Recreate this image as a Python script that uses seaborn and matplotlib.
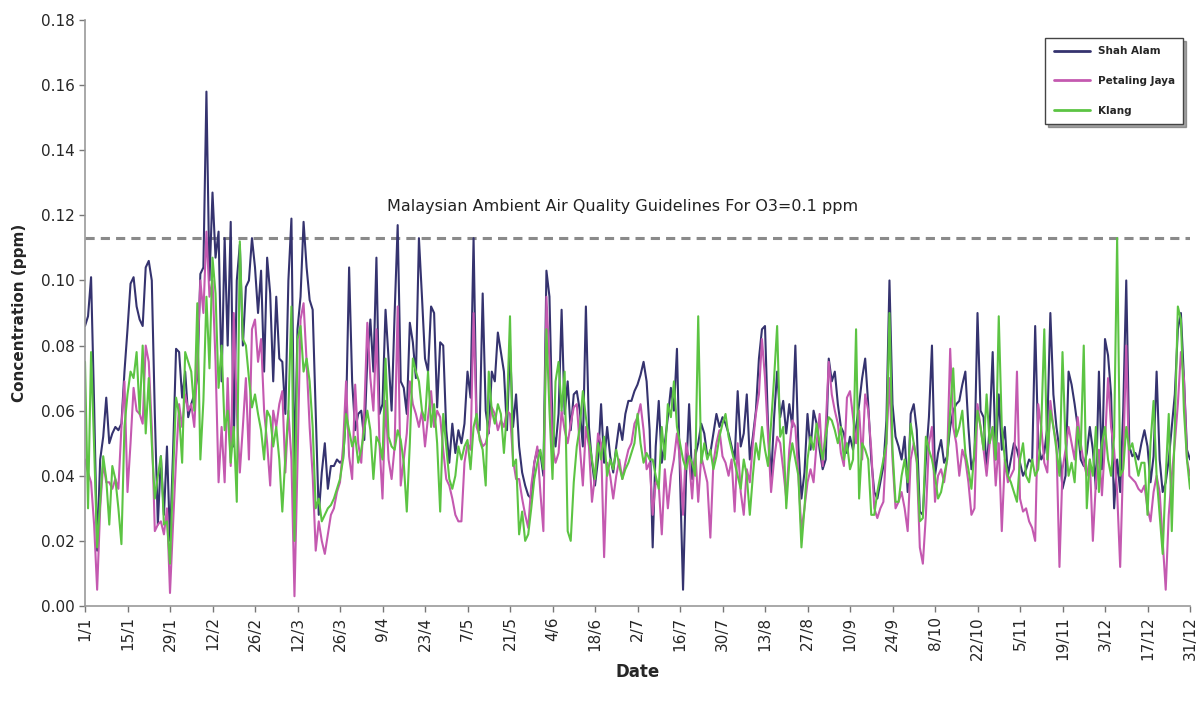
import numpy as np
import pandas as pd
import matplotlib
matplotlib.use("Agg")
import matplotlib.pyplot as plt
import seaborn as sns
from matplotlib.lines import Line2D

# Daily O3 concentrations, in 1/1000 ppm, day 1 = 1 Jan
shah_alam = [
    86, 89, 101, 62, 17, 45, 52, 64, 50, 53, 55, 54, 56, 72,
    85, 99, 101, 92, 88, 86, 104, 106, 100, 59, 25, 46, 28, 49, 20, 47, 79,
    78, 64, 72, 58, 62, 65, 70, 102, 104, 158, 100, 127, 107, 115, 69, 113, 80, 118, 49, 100, 111, 80, 98, 100, 113, 104, 90, 103, 72, 107, 96,
    69, 95, 76, 75, 59, 100, 119, 40, 85, 95, 118, 104, 94, 91, 60, 28, 41, 50, 36, 43, 43, 45, 44, 45, 59, 104, 69, 54, 59, 60, 51, 76,
    88, 72, 107, 59, 62, 91, 76, 60, 90, 117, 69, 67, 59, 87, 81, 70, 113, 95, 76, 72, 92, 90, 61, 81, 80, 54, 44, 56, 47, 54, 50,
    56, 72, 64, 113, 56, 54, 96, 60, 53, 72, 69, 84, 78, 72, 54, 80, 55, 65, 49, 41, 37, 34, 33, 44, 48, 47, 40, 103, 95, 55, 49,
    59, 91, 59, 69, 54, 65, 66, 60, 49, 92, 55, 44, 37, 45, 62, 44, 55, 46, 41, 49, 56, 51, 59, 63, 63, 66, 68, 71, 75, 69, 54,
    18, 49, 63, 44, 50, 58, 67, 60, 79, 40, 5, 40, 62, 39, 46, 50, 56, 53, 46, 47, 53, 59, 55, 58, 56, 53, 49, 45, 66, 49, 53, 65,
    45, 52, 60, 76, 85, 86, 55, 39, 58, 72, 58, 63, 53, 62, 55, 80, 49, 33, 41, 59, 48, 60, 56, 48, 42, 45, 76, 69, 72, 62, 55,
    53, 47, 52, 48, 55, 62, 70, 76, 62, 45, 35, 33, 38, 43, 57, 100, 62, 52, 49, 45, 52, 35, 59, 62, 54, 29, 28, 45, 58, 80, 40,
    47, 51, 44, 46, 55, 60, 62, 63, 68, 72, 55, 42, 46, 90, 60, 58, 42, 55, 78, 45, 65, 48, 55, 40, 45, 50, 48, 44, 40, 42, 45, 44,
    86, 50, 45, 47, 55, 90, 65, 55, 48, 36, 40, 72, 68, 62, 55, 45, 43, 47, 55, 48, 36, 72, 42, 82, 77, 65, 30, 45, 35, 60, 100,
    49, 46, 47, 45, 50, 54, 49, 38, 46, 72, 45, 35, 38, 45, 55, 65, 85, 90, 70, 48, 45,
]
petaling_jaya = [
    45, 41, 38, 25, 5, 30, 44, 38, 38, 36, 39, 36, 55, 69,
    35, 50, 67, 60, 59, 56, 80, 75, 55, 23, 25, 26, 22, 30, 4, 25, 45,
    62, 55, 65, 60, 62, 55, 75, 100, 90, 115, 95, 100, 75, 38, 55, 38, 70, 43, 90, 60, 41, 55, 70, 45, 85, 88, 75, 82, 60, 50, 37,
    60, 55, 62, 66, 41, 60, 45, 3, 44, 88, 93, 75, 55, 40, 17, 26, 20, 16, 22, 28, 30, 35, 38, 49, 69, 46, 39, 68, 50, 44, 60, 87,
    70, 60, 85, 50, 33, 63, 45, 39, 49, 92, 37, 45, 53, 69, 62, 59, 55, 60, 49, 58, 66, 55, 60, 58, 48, 39, 37, 33, 28, 26, 26,
    44, 50, 48, 90, 55, 52, 49, 50, 54, 61, 59, 54, 57, 55, 60, 59, 45, 39, 39, 33, 28, 24, 37, 44, 49, 35, 23, 95, 75, 49, 44,
    47, 60, 54, 50, 56, 61, 62, 49, 37, 55, 49, 32, 40, 53, 50, 15, 44, 40, 33, 40, 45, 39, 44, 48, 50, 56, 58, 62, 54, 42, 44,
    28, 38, 37, 22, 42, 30, 40, 45, 53, 45, 28, 50, 45, 33, 48, 32, 46, 42, 38, 21, 44, 50, 54, 46, 44, 40, 45, 29, 50, 35, 28, 42,
    38, 50, 59, 65, 82, 70, 52, 35, 45, 52, 50, 42, 33, 48, 57, 55, 40, 23, 30, 38, 42, 38, 50, 59, 43, 55, 75, 65, 60, 56, 47,
    43, 64, 66, 58, 50, 60, 45, 65, 60, 48, 30, 27, 30, 32, 50, 70, 45, 30, 32, 35, 30, 23, 45, 50, 44, 18, 13, 28, 50, 55, 32,
    40, 42, 38, 45, 79, 55, 50, 40, 48, 45, 38, 28, 30, 62, 55, 48, 40, 50, 55, 37, 50, 23, 45, 38, 40, 42, 72, 33, 29, 30, 26, 24,
    20, 62, 55, 44, 41, 63, 55, 50, 12, 42, 48, 55, 50, 45, 58, 50, 44, 40, 45, 20, 38, 48, 34, 50, 70, 55, 48, 35, 12, 45, 80,
    40, 39, 38, 36, 35, 37, 30, 26, 35, 40, 35, 20, 5, 28, 40, 50, 62, 78, 70, 45, 40,
]
klang = [
    75, 30, 78, 49, 18, 32, 46, 39, 25, 43, 39, 30, 19, 55,
    65, 72, 70, 78, 59, 80, 53, 70, 50, 33, 40, 46, 25, 26, 13, 40, 64,
    59, 44, 78, 75, 72, 60, 93, 45, 63, 95, 73, 107, 96, 67, 80, 54, 60, 44, 55, 32, 112, 82, 80, 70, 61, 65, 59, 54, 45, 60, 58,
    49, 55, 45, 29, 46, 60, 92, 20, 82, 86, 72, 76, 69, 55, 30, 33, 26, 28, 30, 31, 33, 36, 39, 45, 59, 54, 49, 52, 44, 48, 54, 60,
    54, 39, 52, 50, 45, 76, 52, 49, 48, 54, 51, 44, 29, 50, 76, 72, 69, 60, 57, 72, 55, 62, 50, 29, 59, 49, 39, 36, 40, 49, 45,
    49, 51, 42, 55, 59, 51, 48, 37, 72, 60, 56, 62, 59, 47, 60, 89, 43, 45, 22, 29, 20, 22, 30, 39, 44, 48, 42, 85, 60, 39, 69,
    75, 60, 72, 23, 20, 38, 49, 55, 66, 58, 51, 45, 39, 50, 45, 52, 40, 45, 42, 48, 43, 39, 42, 44, 47, 50, 59, 50, 44, 47, 45,
    45, 40, 36, 55, 45, 62, 58, 69, 55, 50, 45, 42, 46, 44, 40, 89, 44, 50, 45, 48, 42, 46, 52, 56, 59, 52, 48, 44, 40, 36, 45, 40,
    28, 40, 50, 45, 55, 48, 43, 56, 70, 86, 52, 55, 30, 44, 50, 45, 40, 18, 30, 45, 52, 48, 56, 50, 45, 52, 58, 57, 54, 50, 55,
    45, 50, 42, 45, 85, 33, 50, 48, 45, 28, 28, 35, 40, 45, 50, 90, 48, 32, 32, 40, 45, 38, 56, 50, 45, 26, 27, 52, 48, 45, 40,
    33, 35, 40, 45, 60, 73, 52, 55, 60, 47, 42, 36, 48, 60, 55, 48, 65, 50, 55, 45, 89, 55, 45, 40, 38, 35, 32, 45, 50, 40, 38, 45,
    40, 42, 55, 85, 45, 60, 55, 48, 40, 78, 50, 40, 44, 38, 55, 48, 80, 30, 45, 40, 55, 35, 50, 55, 45, 40, 52, 113, 40, 42, 55,
    48, 50, 45, 40, 44, 44, 28, 50, 63, 40, 28, 16, 40, 59, 23, 55, 92, 88, 60, 45, 36,
]
series_names = ["Shah Alam", "Petaling Jaya", "Klang"]
tick_labels = ["1/1", "15/1", "29/1", "12/2", "26/2", "12/3", "26/3", "9/4", "23/4",
               "7/5", "21/5", "4/6", "18/6", "2/7", "16/7", "30/7", "13/8", "27/8",
               "10/9", "24/9", "8/10", "22/10", "5/11", "19/11", "3/12", "17/12", "31/12"]
guideline = 0.113
guideline_text = "Malaysian Ambient Air Quality Guidelines For O3=0.1 ppm"

days = np.arange(1, 366)
frames = []
for name, vals in zip(series_names, [shah_alam, petaling_jaya, klang]):
    frames.append(pd.DataFrame({"day": days, "conc": np.array(vals) / 1000.0, "site": name}))
df = pd.concat(frames, ignore_index=True)

sns.set_theme(style="white")
plt.rcParams['font.family'] = ['DejaVu Sans']

fig = plt.figure(figsize=(11.96, 7.08), dpi=100)
ax = fig.add_axes([85 / 1196, 1 - 606 / 708, (1190 - 85) / 1196, (606 - 20) / 708])

palette = {"Shah Alam": "#35336f", "Petaling Jaya": "#c459b0", "Klang": "#5cc443"}
sns.lineplot(data=df, x="day", y="conc", hue="site", hue_order=series_names,
             palette=palette, linewidth=1.5, ax=ax, legend=False)

ax.axhline(guideline, color="#8a8a8a", linestyle=(0, (3, 2)), linewidth=2.2, zorder=0)
ax.text(178, 0.1205, guideline_text, ha="center", va="bottom", fontsize=11.5, color="#222222")

ax.set_xlim(1, 365)
ax.set_ylim(0, 0.18)
yt = np.arange(0, 0.181, 0.02)
ax.set_yticks(yt)
ax.set_yticklabels([f"{v:.2f}" for v in yt], fontsize=11)
tick_pos = [1 + 14 * i for i in range(len(tick_labels))]
ax.set_xticks(tick_pos)
ax.set_xticklabels(tick_labels, rotation=90, fontsize=11)
ax.tick_params(axis="both", direction="out", length=4, width=1, color="#777777", bottom=True, left=True)

for s in ["top", "right"]:
    ax.spines[s].set_visible(False)
for s in ["left", "bottom"]:
    ax.spines[s].set_color("#999999")
    ax.spines[s].set_linewidth(1.2)

ax.set_xlabel("Date", fontsize=12, fontweight="bold", labelpad=2)
ax.set_ylabel("Concentration (ppm)", fontsize=11, fontweight="bold", labelpad=10)

handles = [Line2D([0], [0], color=palette[n], linewidth=2) for n in series_names]
leg = ax.legend(handles, series_names, loc="upper right",
                bbox_to_anchor=(1183 / 1196, 1 - 38 / 708), bbox_transform=fig.transFigure,
                prop={"size": 7.5, "weight": "bold"}, handlelength=3.5, handletextpad=0.7,
                labelspacing=1.9, borderpad=0.8, borderaxespad=0,
                fancybox=False, shadow=True, frameon=True)
leg.get_frame().set_edgecolor("#444444")
leg.get_frame().set_linewidth(1.0)

fig.savefig("out.png", dpi=100)
